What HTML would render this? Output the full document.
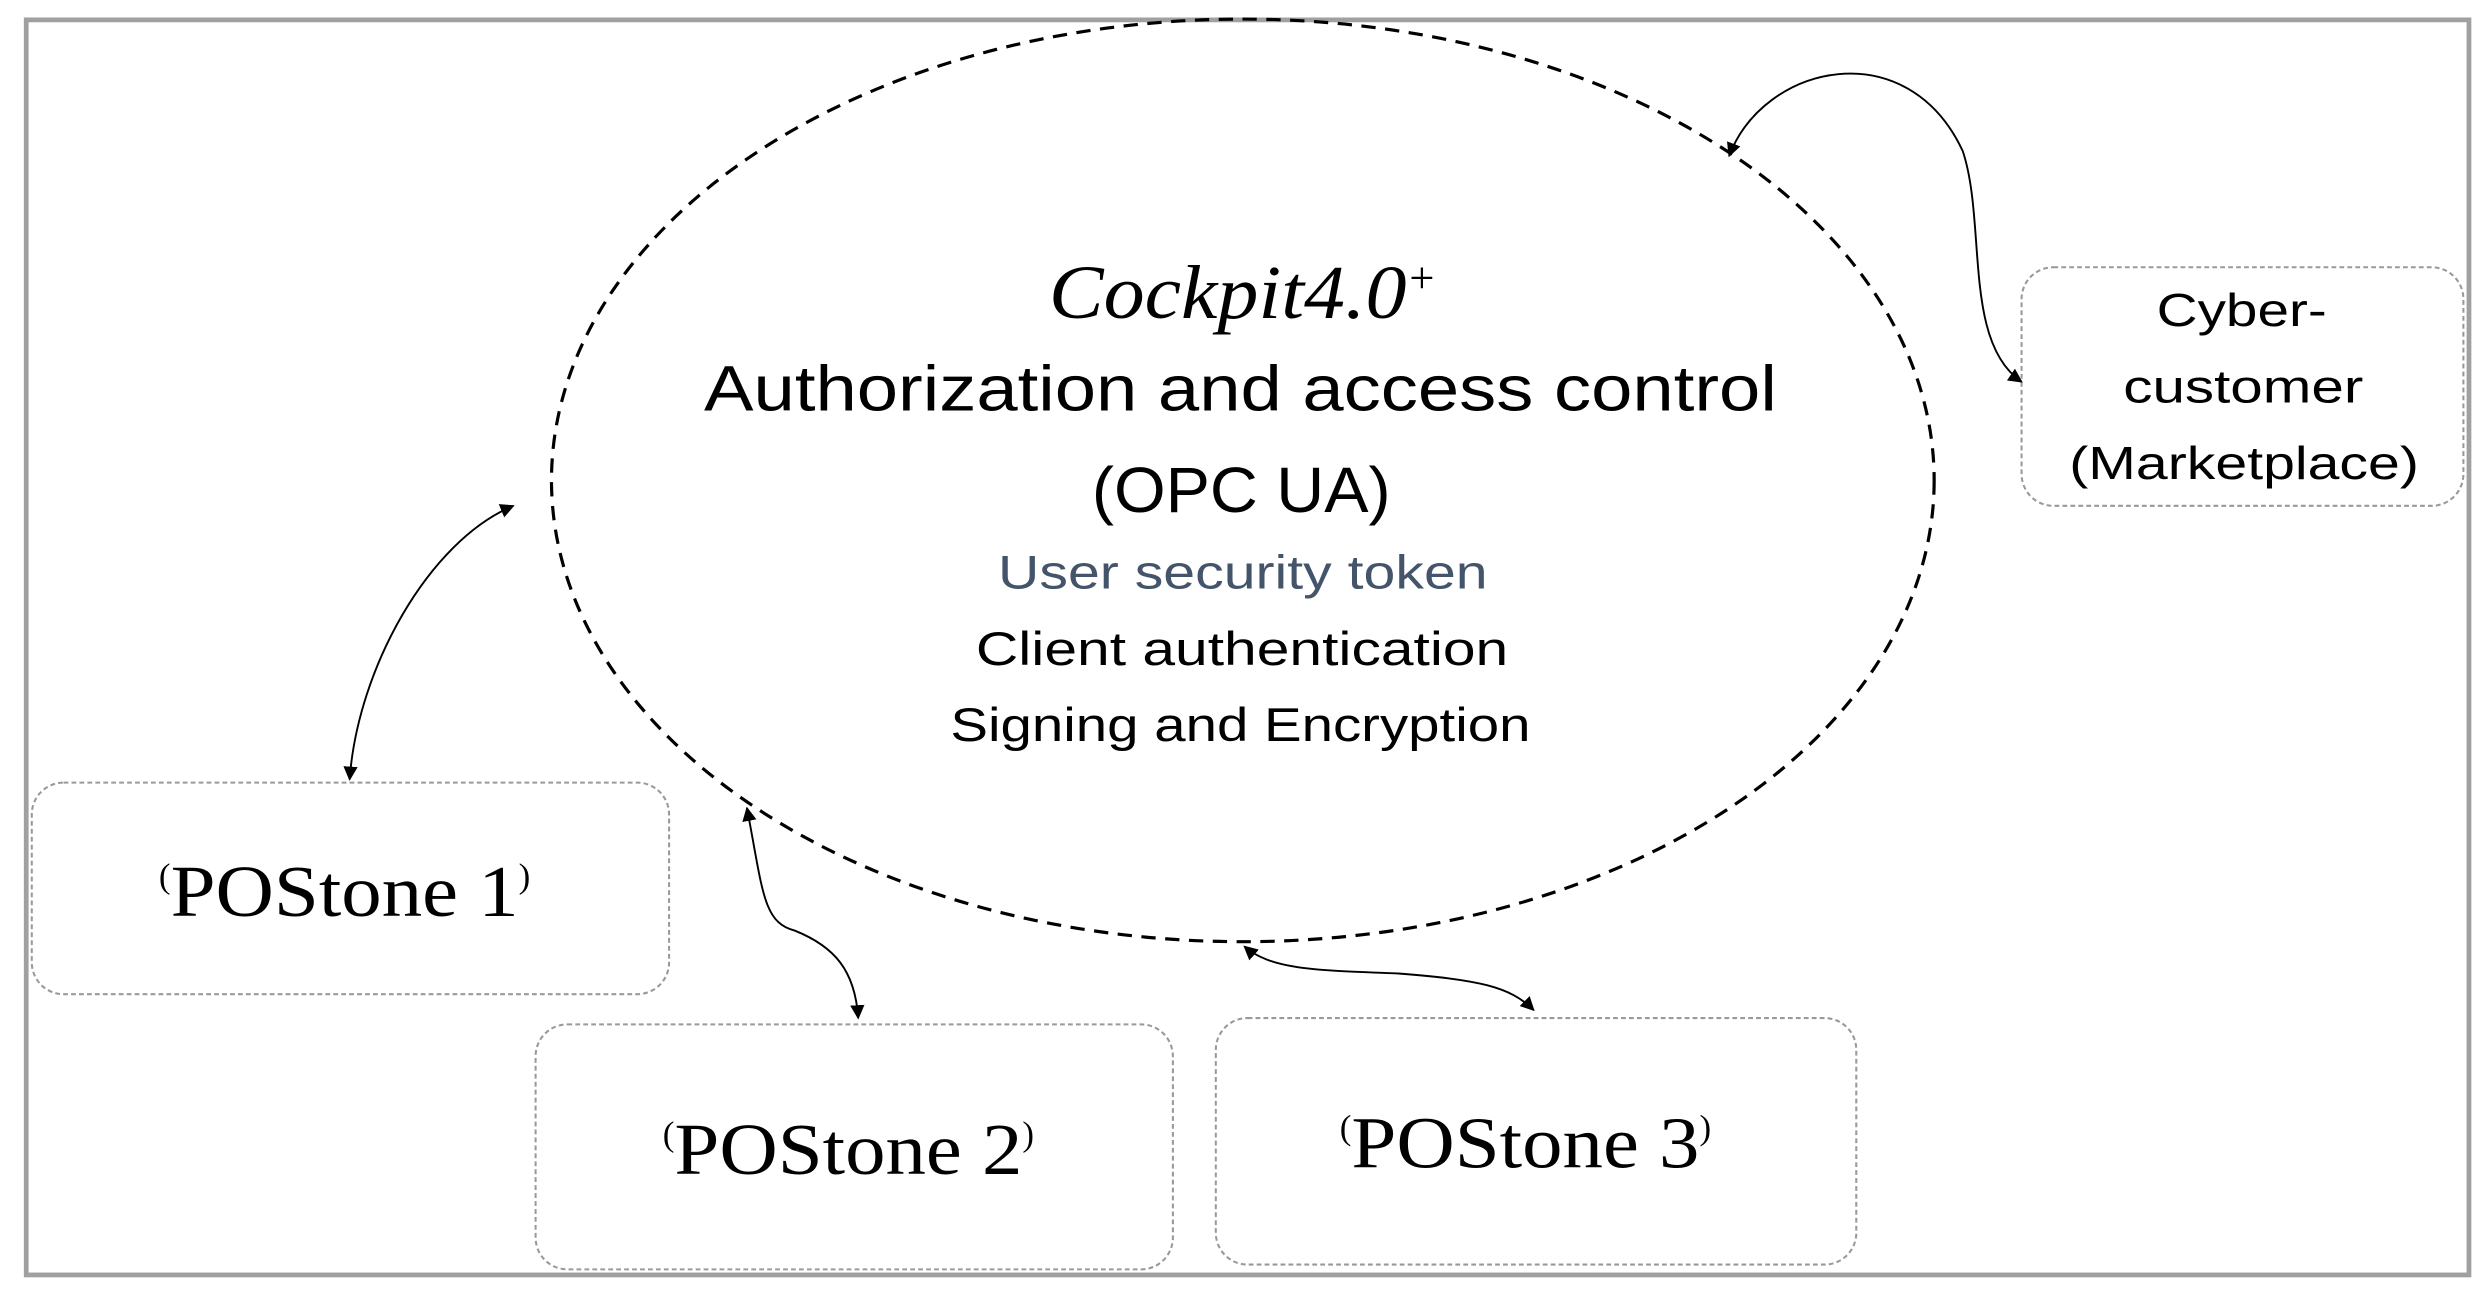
<!DOCTYPE html>
<html><head><style>html,body{margin:0;padding:0;background:#fff}svg{display:block}</style></head>
<body>
<svg width="2492" height="1298" viewBox="0 0 1568 816" preserveAspectRatio="none" xmlns="http://www.w3.org/2000/svg">
<defs>
<marker id="a" viewBox="0 0 10 10" refX="9" refY="5" markerWidth="9" markerHeight="9" orient="auto-start-reverse" markerUnits="userSpaceOnUse"><path d="M0,0 L10,5 L0,10 z" fill="#000"/></marker>
</defs>
<rect x="0" y="0" width="1568" height="816" fill="#fff"/>
<rect x="16.5" y="12.5" width="1537" height="789" fill="none" stroke="#a0a0a0" stroke-width="3"/>
<ellipse cx="782" cy="302" rx="435" ry="290" fill="none" stroke="#000" stroke-width="2" stroke-dasharray="9,6"/>
<g fill="none" stroke="#999" stroke-width="1.3" stroke-dasharray="3,2">
<rect x="1272" y="168" width="278" height="150" rx="20"/>
<rect x="20" y="492" width="401" height="133" rx="20"/>
<rect x="337" y="644" width="401" height="154" rx="20"/>
<rect x="765" y="640" width="403" height="155" rx="20"/>
</g>
<g fill="none" stroke="#000" stroke-width="1.2">
<path d="M1088,98 C1110,40 1200,20 1235,95 C1250,140 1235,215 1272,240" marker-start="url(#a)" marker-end="url(#a)"/>
<path d="M323,318 C270,340 225,420 220,490" marker-start="url(#a)" marker-end="url(#a)"/>
<path d="M470,508 C480,560 480,580 500,585 C525,595 538,610 540,640" marker-start="url(#a)" marker-end="url(#a)"/>
<path d="M783,595 C800,610 830,610 880,612 C930,616 950,620 965,635" marker-start="url(#a)" marker-end="url(#a)"/>
</g>
<g font-family="'Liberation Sans', 'DejaVu Sans', sans-serif" lengthAdjust="spacingAndGlyphs">
<text x="660" y="200" font-family="'Liberation Serif', serif" font-style="italic" font-size="48"><tspan textLength="225" lengthAdjust="spacingAndGlyphs">Cockpit4.0</tspan><tspan font-size="28" dy="-16">+</tspan></text>
<text x="443" y="258" font-size="40" textLength="675" lengthAdjust="spacingAndGlyphs">Authorization and access control</text>
<text x="687" y="322" font-size="40" textLength="188" lengthAdjust="spacingAndGlyphs">(OPC UA)</text>
<text x="628" y="370" font-size="30" fill="#44546a" textLength="308" lengthAdjust="spacingAndGlyphs">User security token</text>
<text x="614" y="418" font-size="30" textLength="335" lengthAdjust="spacingAndGlyphs">Client authentication</text>
<text x="598" y="466" font-size="30" textLength="365" lengthAdjust="spacingAndGlyphs">Signing and Encryption</text>
<text x="1357" y="205" font-size="29" textLength="107" lengthAdjust="spacingAndGlyphs">Cyber-</text>
<text x="1336" y="253" font-size="29" textLength="151" lengthAdjust="spacingAndGlyphs">customer</text>
<text x="1302" y="301" font-size="29" textLength="220" lengthAdjust="spacingAndGlyphs">(Marketplace)</text>
<g font-family="'Liberation Serif', serif" font-size="46">
<text x="100" y="576"><tspan font-size="22" dy="-18">(</tspan><tspan dy="18" textLength="219" lengthAdjust="spacingAndGlyphs">POStone 1</tspan><tspan font-size="22" dy="-18">)</tspan></text>
<text x="417" y="738"><tspan font-size="22" dy="-18">(</tspan><tspan dy="18" textLength="219" lengthAdjust="spacingAndGlyphs">POStone 2</tspan><tspan font-size="22" dy="-18">)</tspan></text>
<text x="843" y="734"><tspan font-size="22" dy="-18">(</tspan><tspan dy="18" textLength="219" lengthAdjust="spacingAndGlyphs">POStone 3</tspan><tspan font-size="22" dy="-18">)</tspan></text>
</g>
</g>
</svg>
</body></html>
